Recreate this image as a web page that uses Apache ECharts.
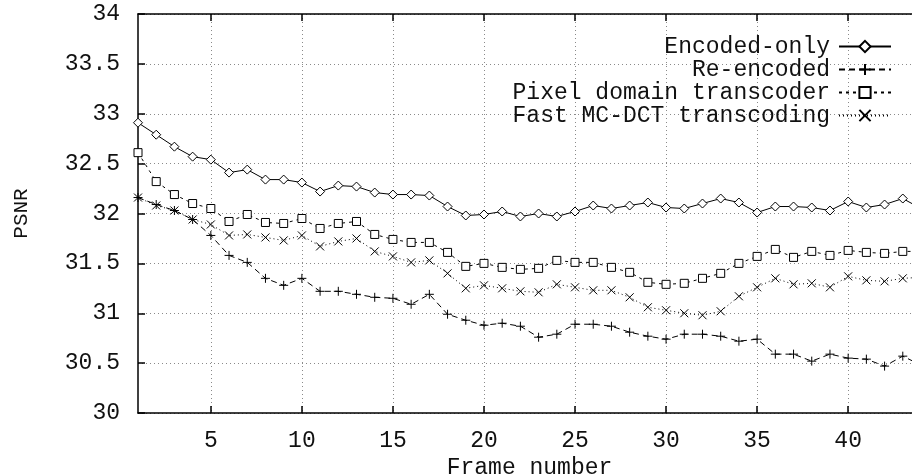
<!DOCTYPE html>
<html>
<head>
<meta charset="utf-8">
<script src="https://cdn.jsdelivr.net/npm/echarts@6/dist/echarts.min.js"></script>
<style>
  html, body { margin: 0; padding: 0; background: #fff; }
  #chart { width: 912px; height: 474px; }
</style>
</head>
<body>
<div id="chart"></div>
<script>
// Frame indices and per-frame PSNR (dB) for each coding path
const frames = [1,2,3,4,5,6,7,8,9,10,11,12,13,14,15,16,17,18,19,20,21,22,23,24,25,26,27,28,29,30,31,32,33,34,35,36,37,38,39,40,41,42,43,44];

const encodedOnly = [32.91,32.79,32.67,32.57,32.54,32.41,32.44,32.34,32.34,32.31,
  32.22,32.28,32.27,32.21,32.19,32.19,32.18,32.07,31.98,31.99,
  32.02,31.97,32.00,31.97,32.02,32.08,32.05,32.08,32.11,32.06,
  32.05,32.10,32.15,32.11,32.01,32.07,32.07,32.06,32.03,32.12,
  32.06,32.09,32.15,32.05];

const reEncoded = [32.16,32.09,32.03,31.94,31.78,31.58,31.51,31.35,31.28,31.35,
  31.22,31.22,31.19,31.16,31.15,31.09,31.19,30.99,30.93,30.88,
  30.90,30.87,30.76,30.79,30.89,30.89,30.87,30.81,30.77,30.74,
  30.79,30.79,30.77,30.72,30.74,30.59,30.59,30.52,30.59,30.55,
  30.54,30.47,30.57,30.48];

const pixelDomain = [32.61,32.32,32.19,32.10,32.05,31.92,31.99,31.91,31.90,31.95,
  31.85,31.90,31.92,31.79,31.74,31.71,31.71,31.61,31.47,31.50,
  31.46,31.44,31.45,31.53,31.51,31.51,31.46,31.41,31.31,31.29,
  31.30,31.35,31.40,31.50,31.57,31.64,31.56,31.62,31.58,31.63,
  31.61,31.60,31.62,31.62];

const fastMcDct = [32.16,32.08,32.03,31.94,31.89,31.78,31.79,31.76,31.73,31.78,
  31.67,31.72,31.75,31.62,31.57,31.51,31.53,31.40,31.25,31.28,
  31.25,31.22,31.21,31.29,31.26,31.23,31.23,31.16,31.06,31.03,
  31.00,30.98,31.02,31.17,31.26,31.35,31.29,31.30,31.26,31.37,
  31.33,31.32,31.35,31.36];

const seriesNames = ['Encoded-only', 'Re-encoded', 'Pixel domain transcoder', 'Fast MC-DCT transcoding'];
const xTickValues = [5, 10, 15, 20, 25, 30, 35, 40];

const FONT = "'Liberation Mono', 'DejaVu Sans Mono', monospace";
const PLUS = 'path://M0,5 L10,5 M5,0 L5,10';
const CROSS = 'path://M0,0 L10,10 M10,0 L0,10';

function pairs(vals) {
  return frames.map((f, i) => [f, vals[i]]);
}

function lineSeries(name, vals, symbol, size, dash, hollow) {
  return {
    name: name,
    type: 'line',
    data: pairs(vals),
    symbol: symbol,
    symbolSize: size,
    showAllSymbol: true,
    clip: false,
    animation: false,
    lineStyle: { color: '#000', width: 1, type: dash },
    itemStyle: {
      color: hollow ? '#fff' : '#000',
      borderColor: '#000',
      borderWidth: 1
    },
    emphasis: { disabled: true }
  };
}

const gridDots = { show: true, lineStyle: { color: '#8a8a8a', width: 1, type: [1, 3] } };

const chart = echarts.init(document.getElementById('chart'), null, { renderer: 'canvas' });

chart.setOption({
  backgroundColor: '#fff',
  animation: false,
  grid: { left: 138, top: 14, right: -9, bottom: 61, containLabel: false, outerBoundsMode: 'none' },
  legend: {
    orient: 'vertical',
    right: 15,
    top: 30,
    align: 'right',
    itemWidth: 52,
    itemHeight: 14,
    itemGap: 0,
    textStyle: { fontFamily: FONT, fontSize: 23, lineHeight: 22.5, color: '#111', padding: [0, 4, 0, 0] },
    data: seriesNames
  },
  xAxis: [
    {
      type: 'value',
      min: 1,
      max: 44,
      position: 'bottom',
      name: 'Frame number',
      nameLocation: 'middle',
      nameGap: 40,
      nameTextStyle: { fontFamily: FONT, fontSize: 23, color: '#111' },
      axisLine: { show: true, onZero: false, lineStyle: { color: '#000', width: 1.5 } },
      axisTick: { show: true, inside: true, length: 7, customValues: xTickValues, lineStyle: { color: '#000', width: 1.5 } },
      axisLabel: { show: true, margin: 16, customValues: xTickValues, fontFamily: FONT, fontSize: 23, color: '#111' },
      splitLine: gridDots
    },
    {
      type: 'value',
      min: 1,
      max: 44,
      position: 'top',
      axisLine: { show: true, onZero: false, lineStyle: { color: '#000', width: 1.5 } },
      axisTick: { show: true, inside: true, length: 7, customValues: xTickValues, lineStyle: { color: '#000', width: 1.5 } },
      axisLabel: { show: false },
      splitLine: { show: false }
    }
  ],
  yAxis: {
    type: 'value',
    min: 30,
    max: 34,
    interval: 0.5,
    name: 'PSNR',
    nameLocation: 'middle',
    nameGap: 106,
    nameRotate: 90,
    nameTextStyle: { fontFamily: FONT, fontSize: 21, color: '#111' },
    axisLine: { show: true, onZero: false, lineStyle: { color: '#000', width: 1.5 } },
    axisTick: { show: true, inside: true, length: 7, lineStyle: { color: '#000', width: 1.5 } },
    axisLabel: { margin: 18, fontFamily: FONT, fontSize: 23, color: '#111' },
    splitLine: gridDots
  },
  series: [
    lineSeries(seriesNames[0], encodedOnly, 'diamond', 9, 'solid', true),
    lineSeries(seriesNames[1], reEncoded, PLUS, 9, [6, 4], false),
    lineSeries(seriesNames[2], pixelDomain, 'rect', 8, [3, 4], true),
    lineSeries(seriesNames[3], fastMcDct, CROSS, 8, [1, 3], false)
  ]
});
</script>
</body>
</html>
